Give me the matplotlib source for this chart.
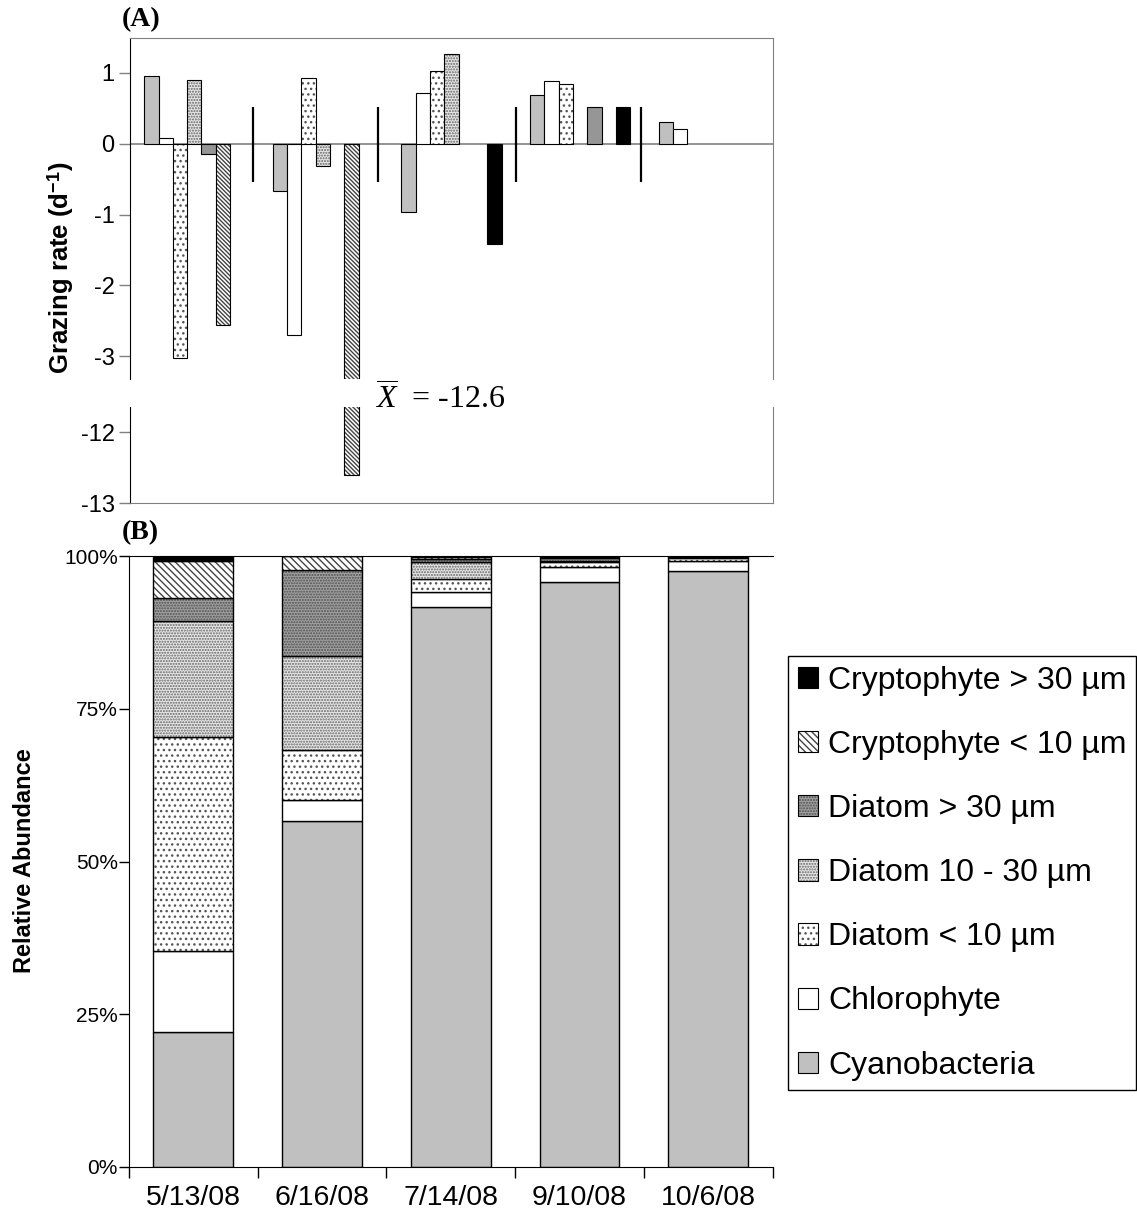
import numpy as np
import matplotlib
matplotlib.use("Agg")
import matplotlib.pyplot as plt
from matplotlib.patches import Patch

plt.rcParams['font.family'] = ['Liberation Sans', 'DejaVu Sans']
plt.rcParams['mathtext.fontset'] = 'custom'
plt.rcParams['mathtext.rm'] = 'Liberation Sans'
plt.rcParams['mathtext.bf'] = 'Liberation Sans:bold'
plt.rcParams['mathtext.it'] = 'Liberation Serif:italic'
plt.rcParams['axes.unicode_minus'] = False
plt.rcParams['hatch.linewidth'] = 1.0

nan = np.nan

# Sampling dates and phytoplankton groups
dates = ['5/13/08', '6/16/08', '7/14/08', '9/10/08', '10/6/08']
groups = ['Cyanobacteria', 'Chlorophyte', 'Diatom < 10 µm', 'Diatom 10 - 30 µm',
          'Diatom > 30 µm', 'Cryptophyte < 10 µm', 'Cryptophyte > 30 µm']

# (A) grazing rates (d-1), one list per group across the dates
graz_cyano = [0.96, -0.67, -0.97, 0.68, 0.30]
graz_chloro = [0.08, -2.70, 0.71, 0.89, 0.21]
graz_dia_s = [-3.02, 0.92, 1.02, 0.84, nan]
graz_dia_m = [0.90, -0.31, 1.26, nan, nan]
graz_dia_l = [-0.15, nan, nan, 0.52, nan]
graz_cry_s = [-2.56, -12.6, nan, nan, nan]
graz_cry_l = [nan, nan, -1.41, 0.51, nan]
mean_label = -12.6

# (B) relative abundance (%)
ab_cyano = [22.1, 56.6, 91.7, 95.8, 97.6]
ab_chloro = [13.3, 3.4, 2.4, 2.4, 1.5]
ab_dia_s = [35.0, 8.3, 2.1, 0.75, 0.5]
ab_dia_m = [19.0, 15.3, 2.75, 0.25, 0.2]
ab_dia_l = [3.7, 14.1, 0.55, 0.5, 0.1]
ab_cry_s = [6.1, 2.3, 0.3, 0.1, 0.1]
ab_cry_l = [0.8, 0.0, 0.2, 0.2, 0.0]

graz = [graz_cyano, graz_chloro, graz_dia_s, graz_dia_m, graz_dia_l, graz_cry_s, graz_cry_l]
abund = [ab_cyano, ab_chloro, ab_dia_s, ab_dia_m, ab_dia_l, ab_cry_s, ab_cry_l]

# fill, hatch, hatch colour
style_a = [('#c0c0c0', None, '#c0c0c0'),
           ('white', None, 'white'),
           ('white', '...', '#555555'),
           ('#e6e6e6', '......', '#666666'),
           ('#969696', None, '#969696'),
           ('white', '\\' * 8, '#444444'),
           ('black', None, 'black')]
style_b = [('#c0c0c0', None, '#c0c0c0'),
           ('white', None, 'white'),
           ('white', '...', '#555555'),
           ('#e6e6e6', '......', '#666666'),
           ('#a0a0a0', '......', '#505050'),
           ('white', '\\' * 5, '#444444'),
           ('black', None, 'black')]

sep_x = [0.46, 1.43, 2.5, 3.47]


def draw_bars(ax, x, h, w, bottom, st, lw=0.8):
    fc, hatch, hc = st
    ax.bar(x, h, w, bottom=bottom, color=fc, hatch=hatch, edgecolor=hc, linewidth=0)
    ax.bar(x, h, w, bottom=bottom, fill=False, edgecolor='black', linewidth=lw)


fig = plt.figure(figsize=(11.37, 12.31), dpi=100)
W, H = 1137, 1231

axA = fig.add_axes([130 / W, 1 - 379 / H, 643 / W, 341 / H])
axA2 = fig.add_axes([130 / W, 1 - 503 / H, 643 / W, 96 / H])
axB = fig.add_axes([129 / W, 1 - 1167 / H, 643.5 / W, 611 / H])

# ---- panel A: grouped bars with broken axis
xc = np.arange(len(dates))
bw = 1 / 9
for ax in (axA, axA2):
    for j, vals in enumerate(graz):
        vals = np.array(vals, dtype=float)
        ok = ~np.isnan(vals)
        draw_bars(ax, xc[ok] + (j - 3) * bw, vals[ok], bw, 0, style_a[j])
    ax.set_xlim(-0.5, 4.5)
    ax.set_xticks([])
    ax.tick_params(axis='y', length=8, width=1, color='#808080', labelsize=17, pad=3)

axA.axhline(0, color='#808080', lw=1.2, zorder=0.5)
axA.vlines(sep_x, -0.54, 0.51, color='black', lw=1.6)
axA.set_ylim(-3.32, 1.49)
axA.set_yticks([1, 0, -1, -2, -3])
axA.set_yticklabels(['1', '0', '-1', '-2', '-3'])
axA.spines['bottom'].set_visible(False)
axA.spines['top'].set_color('#808080')
axA.spines['right'].set_color('#808080')

axA2.set_ylim(-13, -11.646)
axA2.set_yticks([-12, -13])
axA2.set_yticklabels(['-12', '-13'])
axA2.spines['top'].set_visible(False)
axA2.spines['bottom'].set_color('#808080')
axA2.spines['right'].set_color('#808080')

fig.text(375 / W, 1 - 409 / H, r'$\overline{X}$  = ' + f'{mean_label}', fontsize=23,
         family='Liberation Serif', va='baseline')
fig.text(61 / W, 1 - 268 / H, r'Grazing rate (d$^{\mathbf{-1}}$)', rotation=90,
         fontsize=18.5, fontweight='bold', ha='center', va='center')
fig.text(122 / W, 1 - 20 / H, '(A)', fontsize=20, fontweight='bold',
         family='Liberation Serif', va='center')

# ---- panel B: stacked relative abundance
bottom = np.zeros(len(dates))
for j, vals in enumerate(abund):
    vals = np.array(vals, dtype=float)
    draw_bars(axB, xc, vals, 0.62, bottom, style_b[j], lw=1.0)
    bottom += vals

axB.set_xlim(-0.5, 4.5)
axB.set_ylim(0, 100)
axB.set_yticks([0, 25, 50, 75, 100])
axB.set_yticklabels(['0%', '25%', '50%', '75%', '100%'])
axB.set_xticks(np.arange(-0.5, 5, 1))
axB.set_xticklabels([])
axB.set_xticks(xc, minor=True)
axB.set_xticklabels(dates, minor=True)
axB.tick_params(axis='x', which='major', length=8, width=1)
axB.tick_params(axis='x', which='minor', length=0, labelsize=20.5, pad=13)
axB.tick_params(axis='y', length=7, width=1, labelsize=15, pad=1)
axB.spines['right'].set_visible(False)

fig.text(25 / W, 1 - 861 / H, 'Relative Abundance', rotation=90,
         fontsize=17, fontweight='bold', ha='center', va='center')
fig.text(122 / W, 1 - 533 / H, '(B)', fontsize=20, fontweight='bold',
         family='Liberation Serif', va='center')

handles = []
for st in style_b:
    fc, hatch, hc = st
    handles.append((Patch(facecolor=fc, hatch=hatch, edgecolor=hc, linewidth=0),
                    Patch(fill=False, edgecolor='black', linewidth=0.8)))
leg = fig.legend(handles[::-1], groups[::-1], loc='upper left',
                 bbox_to_anchor=(788 / W, 1 - 656 / H), bbox_transform=fig.transFigure,
                 fontsize=23, frameon=True, fancybox=False, framealpha=1,
                 edgecolor='black', handlelength=0.65, handleheight=0.65,
                 handletextpad=0.3, labelspacing=1.07, borderpad=0.3, borderaxespad=0)
leg.get_frame().set_linewidth(1.0)

fig.savefig('out.png', dpi=100)
